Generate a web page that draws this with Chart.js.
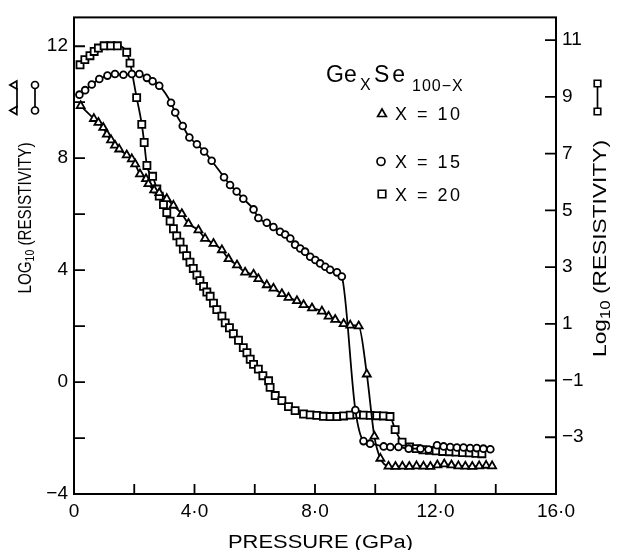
<!DOCTYPE html>
<html>
<head>
<meta charset="utf-8">
<script src="https://cdn.jsdelivr.net/npm/chart.js@4.4.0/dist/chart.umd.min.js"></script>
<style>
html,body{margin:0;padding:0;background:#fff;}
#wrap{width:618px;height:550px;}
canvas{display:block;}
</style>
</head>
<body>
<div id="wrap"><canvas id="c" width="618" height="550" style="width:618px;height:550px"></canvas></div>
<script>
// ---- data (pressure in GPa, log10 resistivity) ----
const pressureX10 = [0.22,0.66,0.81,0.97,1.09,1.23,1.36,1.50,1.75,1.92,2.03,2.19,2.39,2.47,2.66,2.83,3.08,3.30,3.58,3.80,4.13,4.35,4.63,4.91,5.13,5.41,5.68,5.96,6.12,6.40,6.62,6.90,7.12,7.40,7.62,7.90,8.23,8.45,8.67,8.95,9.17,9.45,9.72,9.97,10.17,10.44,10.67,10.90,11.13,11.37,11.60,11.83,12.06,12.29,12.53,12.76,12.99,13.22,13.45,13.68,13.88];
const logRhoX10   = [9.87,9.41,9.27,9.09,8.85,8.65,8.46,8.32,8.11,7.97,7.79,7.43,7.26,7.08,6.86,6.76,6.55,6.31,6.01,5.66,5.43,5.13,4.95,4.72,4.40,4.18,3.92,3.85,3.69,3.47,3.35,3.15,3.02,2.90,2.76,2.64,2.53,2.35,2.23,2.08,2.03,2.00,0.28,-1.94,-2.73,-3.01,-3.02,-3.01,-3.02,-3.00,-3.01,-3.02,-2.97,-2.93,-2.97,-3.00,-3.01,-3.02,-3.00,-2.98,-3.00];

const pressureX15 = [0.18,0.37,0.59,0.84,1.11,1.36,1.64,1.92,2.17,2.42,2.61,2.83,3.22,3.36,3.61,3.83,4.08,4.32,4.57,4.98,5.18,5.40,5.62,5.96,6.12,6.40,6.62,6.84,7.01,7.18,7.34,7.51,7.67,7.84,8.01,8.17,8.34,8.50,8.73,8.89,9.34,9.61,9.83,10.28,10.50,10.77,11.11,11.50,11.77,12.05,12.27,12.49,12.71,12.93,13.15,13.37,13.59,13.82];
const logRhoX15   = [10.27,10.43,10.63,10.83,10.95,11.01,10.98,11.01,11.01,10.87,10.75,10.59,9.98,9.63,9.15,8.74,8.50,8.24,7.91,7.32,7.04,6.81,6.55,6.17,5.86,5.69,5.54,5.37,5.27,5.13,4.91,4.77,4.66,4.48,4.36,4.24,4.12,4.01,3.92,3.77,-1.00,-2.11,-2.20,-2.30,-2.32,-2.32,-2.38,-2.38,-2.41,-2.26,-2.30,-2.32,-2.34,-2.34,-2.36,-2.36,-2.38,-2.40];

// X = 20 is read on the right-hand axis
const pressureX20 = [0.20,0.36,0.53,0.67,0.81,1.00,1.22,1.44,1.75,1.86,2.08,2.25,2.33,2.42,2.61,2.75,2.83,2.97,3.08,3.19,3.30,3.41,3.52,3.63,3.74,3.85,3.96,4.08,4.18,4.30,4.41,4.52,4.63,4.74,4.91,5.02,5.16,5.29,5.46,5.62,5.74,5.85,5.96,6.12,6.27,6.46,6.51,6.68,6.90,7.12,7.34,7.62,7.84,8.06,8.28,8.50,8.73,8.95,9.17,9.39,9.61,9.83,10.05,10.27,10.49,10.66,10.89,11.14,11.36,11.58,11.80,12.02,12.24,12.46,12.68,12.90,13.12,13.34,13.54];
const logRhoX20   = [10.13,10.31,10.45,10.60,10.72,10.80,10.80,10.80,10.57,10.19,8.97,8.03,7.39,6.58,6.20,5.75,5.50,5.20,4.92,4.62,4.35,4.10,3.88,3.63,3.40,3.17,2.95,2.72,2.52,2.32,2.12,1.97,1.73,1.50,1.27,1.03,0.86,0.65,0.42,0.16,-0.02,-0.25,-0.43,-0.60,-0.83,-1.01,-1.24,-1.53,-1.71,-1.92,-2.06,-2.18,-2.21,-2.23,-2.26,-2.27,-2.27,-2.25,-2.22,-2.20,-2.22,-2.23,-2.24,-2.25,-2.27,-2.73,-3.17,-3.34,-3.40,-3.44,-3.46,-3.48,-3.50,-3.51,-3.52,-3.54,-3.55,-3.57,-3.58];

// ---- ticks / labels ----
const xTickValues = [0,4,8,12,16];
const xTickLabels = ['0','4·0','8·0','12·0','16·0'];
const xMinorTickValues = [2,6,10,14];
const leftTickValues = [-4,0,4,8,12];
const leftMinorTickValues = [-2,2,6,10];
const rightTickValues = [-3,-1,1,3,5,7,9,11];
const seriesLabels = ['X = 10','X = 15','X = 20'];

const FONT = '"Liberation Sans", Arial, sans-serif';

function pts(xs, ys){ return xs.map((x,i)=>({x:x, y:ys[i]})); }

function tri(ctx,x,y,r,rot){
  ctx.save(); ctx.translate(x,y); ctx.rotate(rot||0);
  ctx.beginPath();
  for(let k=0;k<3;k++){const a=-Math.PI/2+k*2*Math.PI/3; const px=r*Math.cos(a), py=r*Math.sin(a); k?ctx.lineTo(px,py):ctx.moveTo(px,py);}
  ctx.closePath(); ctx.fillStyle='#fff'; ctx.fill(); ctx.stroke(); ctx.restore();
}
function circ(ctx,x,y,r){ctx.beginPath();ctx.arc(x,y,r,0,Math.PI*2);ctx.fillStyle='#fff';ctx.fill();ctx.stroke();}
function sq(ctx,x,y,s){ctx.beginPath();ctx.rect(x-s/2,y-s/2,s,s);ctx.fillStyle='#fff';ctx.fill();ctx.stroke();}

// draws runs of text (with subscripts) fitted to a target length, centred at 0 on local x
function drawRunsFit(ctx, runs, targetLen){
  let w=0; const ws=[];
  runs.forEach(r=>{ctx.font=r.size+'px '+FONT; const m=ctx.measureText(r.t).width; ws.push(m); w+=m;});
  const s=targetLen/w;
  ctx.save(); ctx.scale(s,1);
  let x=-w/2;
  ctx.fillStyle='#000';
  runs.forEach((r,i)=>{ctx.font=r.size+'px '+FONT; ctx.fillText(r.t,x,r.dy||0); x+=ws[i];});
  ctx.restore();
}

const deco = {
  id:'deco',
  afterDraw(chart){
    const ctx=chart.ctx, a=chart.chartArea;
    const sx=chart.scales.x, sy=chart.scales.y, sy2=chart.scales.y2;
    ctx.save();
    ctx.strokeStyle='#000'; ctx.fillStyle='#000';
    ctx.lineWidth=2;
    ctx.strokeRect(a.left,a.top,a.right-a.left,a.bottom-a.top);
    // inward tick marks
    ctx.lineWidth=1.8;
    ctx.beginPath();
    xTickValues.concat(xMinorTickValues).forEach(v=>{const px=sx.getPixelForValue(v); ctx.moveTo(px,a.bottom); ctx.lineTo(px,a.bottom-10);});
    leftTickValues.concat(leftMinorTickValues).forEach(v=>{const py=sy.getPixelForValue(v); ctx.moveTo(a.left,py); ctx.lineTo(a.left+11,py);});
    rightTickValues.forEach(v=>{const py=sy2.getPixelForValue(v); ctx.moveTo(a.right,py); ctx.lineTo(a.right-11,py);});
    ctx.stroke();

    ctx.textBaseline='alphabetic';
    // x title
    ctx.save(); ctx.translate(320.5,548);
    drawRunsFit(ctx,[{t:'PRESSURE (GPa)',size:18}],185);
    ctx.restore();
    // left title
    ctx.save(); ctx.translate(31,218); ctx.rotate(-Math.PI/2);
    drawRunsFit(ctx,[{t:'LOG',size:19},{t:'10',size:13,dy:3},{t:' (RESISTIVITY)',size:19}],151);
    ctx.restore();
    // right title
    ctx.save(); ctx.translate(606,248.5); ctx.rotate(-Math.PI/2);
    drawRunsFit(ctx,[{t:'Log',size:19},{t:'10',size:14,dy:4},{t:' (RESISTIVITY)',size:19}],217);
    ctx.restore();

    // legend title
    ctx.fillStyle='#000';
    ctx.font='23px '+FONT; ctx.fillText('Ge',326,82);
    ctx.font='16px '+FONT; ctx.fillText('X',360,90);
    try{ctx.letterSpacing='3px';}catch(e){}
    ctx.font='23px '+FONT; ctx.fillText('Se',374,82);
    try{ctx.letterSpacing='1px';}catch(e){}
    ctx.font='16px '+FONT; ctx.fillText('100−X',412,91);
    try{ctx.letterSpacing='0px';}catch(e){}

    // legend entries
    ctx.lineWidth=1.7;
    tri(ctx,382,114,5);
    circ(ctx,381,161.5,4);
    sq(ctx,382,194,7.5);
    ctx.fillStyle='#000';
    ctx.font='18px '+FONT;
    try{ctx.letterSpacing='2.5px';}catch(e){}
    ctx.fillText(seriesLabels[0],395,120);
    ctx.fillText(seriesLabels[1],395,168);
    ctx.fillText(seriesLabels[2],395,200.5);
    try{ctx.letterSpacing='0px';}catch(e){}

    // axis symbol keys
    ctx.lineWidth=1.7;
    ctx.beginPath(); ctx.moveTo(17,88); ctx.lineTo(17,108); ctx.stroke();
    tri(ctx,14.5,85,4.6,-Math.PI/2);
    tri(ctx,14.5,110.5,4.6,-Math.PI/2);
    ctx.beginPath(); ctx.moveTo(35,88); ctx.lineTo(35,108); ctx.stroke();
    circ(ctx,35,85,3.5);
    circ(ctx,35,110.5,3.5);
    ctx.beginPath(); ctx.moveTo(597.5,87); ctx.lineTo(597.5,108); ctx.stroke();
    sq(ctx,597.5,83.5,6.5);
    sq(ctx,597.5,111.5,6.5);
    ctx.restore();
  }
};

const common = {showLine:true, fill:false, borderColor:'#000', borderWidth:1.8,
  pointBorderColor:'#000', pointBackgroundColor:'#fff', pointBorderWidth:1.8,
  cubicInterpolationMode:'monotone'};

new Chart(document.getElementById('c'), {
  type:'scatter',
  data:{datasets:[
    Object.assign({label:seriesLabels[0], data:pts(pressureX10,logRhoX10), yAxisID:'y', pointStyle:'triangle', pointRadius:4.6}, common),
    Object.assign({label:seriesLabels[1], data:pts(pressureX15,logRhoX15), yAxisID:'y', pointStyle:'circle', pointRadius:3.4}, common),
    Object.assign({label:seriesLabels[2], data:pts(pressureX20,logRhoX20), yAxisID:'y2', pointStyle:'rect', pointRadius:5}, common)
  ]},
  options:{
    responsive:false, animation:false, devicePixelRatio:1,
    layout:{padding:{top:14,left:0,right:0,bottom:0}},
    plugins:{legend:{display:false}, tooltip:{enabled:false}},
    scales:{
      x:{type:'linear', min:0, max:16, position:'bottom',
        grid:{display:false, drawTicks:false}, border:{display:false},
        afterBuildTicks:s=>{s.ticks=xTickValues.map(v=>({value:v}));},
        afterFit:s=>{s.height=56;},
        ticks:{padding:6, maxRotation:0, color:'#000', font:{family:FONT,size:19},
          callback:v=>{const i=xTickValues.indexOf(v); return i>=0?xTickLabels[i]:'';}}},
      y:{type:'linear', position:'left', min:-4, max:13.03,
        grid:{display:false, drawTicks:false}, border:{display:false},
        afterBuildTicks:s=>{s.ticks=leftTickValues.map(v=>({value:v}));},
        afterFit:s=>{s.width=74;},
        ticks:{padding:6, color:'#000', font:{family:FONT,size:19}, callback:v=>v<0?'−'+Math.abs(v):String(v)}},
      y2:{type:'linear', position:'right', min:-5, max:11.8,
        grid:{display:false, drawTicks:false}, border:{display:false},
        afterBuildTicks:s=>{s.ticks=rightTickValues.map(v=>({value:v}));},
        afterFit:s=>{s.width=62;},
        ticks:{padding:6, color:'#000', font:{family:FONT,size:19}, callback:v=>v<0?'−'+Math.abs(v):String(v)}}
    }
  },
  plugins:[deco]
});
</script>
</body>
</html>
